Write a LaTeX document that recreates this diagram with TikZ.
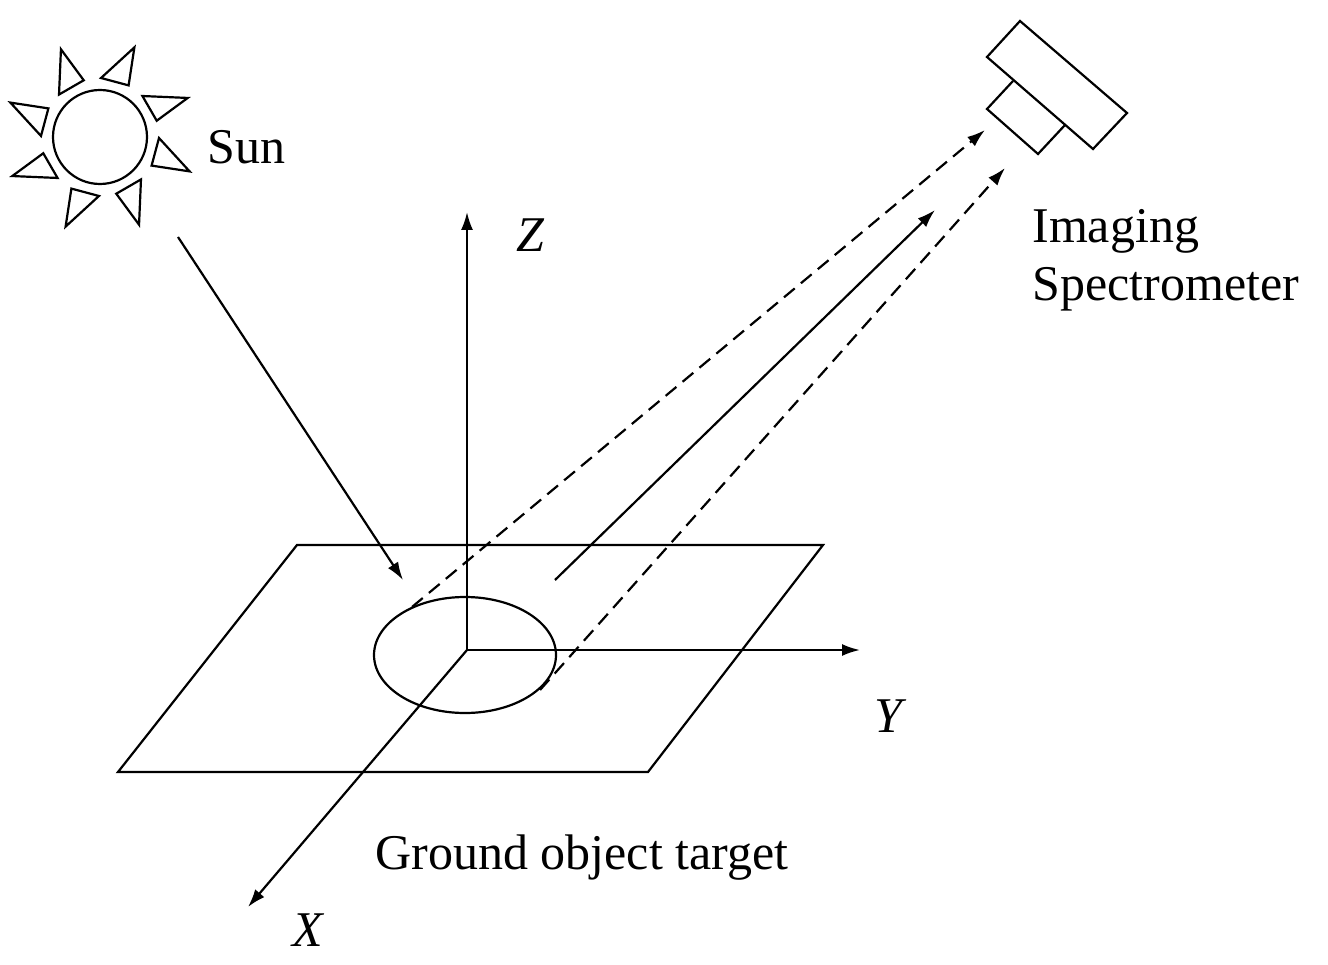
\documentclass[tikz,border=0pt]{standalone}
\usepackage{fontspec}
\setmainfont{Liberation Serif}
\usetikzlibrary{arrows.meta,calc}
\begin{document}
\begin{tikzpicture}[x=1pt,y=-1pt,line width=2.2pt,
  lbl/.style={font=\fontsize{50}{58}\selectfont},
  ilbl/.style={font=\fontsize{50}{58}\selectfont\itshape},
  arr/.style={-{Latex[length=18pt,width=12pt]}},
  dsh/.style={dash pattern=on 14pt off 8pt}]
\useasboundingbox (0,0) rectangle (1328,965);
% sun
\coordinate (sc) at (100,137);
\draw (sc) circle[radius=47];
\foreach \a in {30,75,120,165,210,255,300,345}{
  \draw[line join=miter] ($(sc)+(-\a+14:59)$) -- ($(sc)+(-\a-14:59)$) -- ($(sc)+(-\a+6:96)$) -- cycle;
}
\node[lbl,anchor=west] (sun) at (203,147) {Sun};
% spectrometer
\draw (1020,21) -- (1127,113) -- (1093,149) -- (987,57) -- cycle;
\draw (1013,81) -- (987,109) -- (1038,154) -- (1065,125);
\node[lbl,anchor=north west,align=left] (spec) at (1028,205) {Imaging\\Spectrometer};
% plane
\draw (297,545) -- (823,545) -- (648,772) -- (118,772) -- cycle;
\draw (465,655) ellipse[x radius=91, y radius=58];
% axes
\coordinate (o) at (467,650);
\coordinate (zt) at (467,212);
\coordinate (yt) at (860,650);
\coordinate (xt) at (248,907);
\draw[arr] (o) -- (zt);
\draw[arr] (o) -- (yt);
\draw[arr] (o) -- (xt);
\node[ilbl] (zl) at (530,235) {Z};
\node[ilbl] (yl) at (888,716) {Y};
\node[ilbl] (xl) at (308,930) {X};
\node[lbl] (gt) at (582,858) {Ground object target};
% rays
\coordinate (s1) at (178,237); \coordinate (s2) at (403,580);
\draw[arr] (s1) -- (s2);
\coordinate (a1) at (412,607); \coordinate (a2) at (985,130);
\coordinate (b1) at (555,580); \coordinate (b2) at (935,210);
\coordinate (c1) at (540,690); \coordinate (c2) at (1005,168);
\draw[arr,dsh] (a1) -- (a2);
\draw[arr] (b1) -- (b2);
\draw[arr,dsh] (c1) -- (c2);
\end{tikzpicture}
\end{document}
